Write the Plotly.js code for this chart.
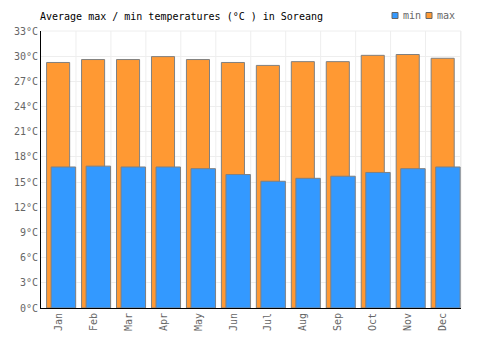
<!DOCTYPE html>
<html>
<head>
<meta charset="utf-8">
<script src="https://cdn.plot.ly/plotly-3.0.1.min.js"></script>
<style>html,body{margin:0;padding:0;background:#fff;}#chart{width:500px;height:350px;}</style>
</head>
<body>
<div id="chart"></div>
<script>
const months = ["Jan","Feb","Mar","Apr","May","Jun","Jul","Aug","Sep","Oct","Nov","Dec"];
const maxTemps = [29.25, 29.6, 29.6, 29.95, 29.6, 29.25, 28.9, 29.35, 29.35, 30.1, 30.2, 29.75];
const minTemps = [16.8, 16.9, 16.8, 16.8, 16.6, 15.9, 15.1, 15.45, 15.7, 16.15, 16.6, 16.8];
const yTicks = [0,3,6,9,12,15,18,21,24,27,30,33];
const seriesNames = ["min","max"];
const seriesColors = ["#3399ff","#ff9933"];

const font = "DejaVu Sans Mono, monospace";
const data = [
  {type:"bar", name:"max", x:months, y:maxTemps, width:0.66, offset:-0.34,
   marker:{color:seriesColors[1], line:{color:"#808080", width:1}}, hoverinfo:"skip"},
  {type:"bar", name:"min", x:months, y:minTemps, width:0.70, offset:-0.21,
   marker:{color:seriesColors[0], line:{color:"#808080", width:1}}, hoverinfo:"skip"}
];
const W=500, H=350, L=41, R=39, T=31, B=42;
const pw=W-L-R, ph=H-T-B;
const px = x => (x-L)/pw;
const py = y => (H-B-y)/ph;
const legendShapes = [], legendAnn = [];
const legX = [392, 426];
seriesNames.forEach((n,i)=>{
  legendShapes.push({type:"rect", xref:"paper", yref:"paper", x0:px(legX[i]), x1:px(legX[i]+6), y0:py(18.5), y1:py(12.5),
    fillcolor:seriesColors[i], line:{color:"#666", width:1}});
  legendAnn.push({xref:"paper", yref:"paper", x:px(legX[i]+9), y:py(16), xanchor:"left", yanchor:"middle",
    text:n, showarrow:false, font:{family:font, size:10, color:"#666"}});
});
const layout = {
  width:W, height:H,
  margin:{l:L, r:R, t:T, b:B},
  paper_bgcolor:"#fff", plot_bgcolor:"#fff",
  barmode:"overlay",
  font:{family:font, size:10, color:"#666"},
  title:{text:"Average max / min temperatures (°C ) in Soreang", x:40/W, xanchor:"left", xref:"container",
         y:1-16/H, yref:"container", yanchor:"middle", automargin:false,
         font:{family:font, size:10, color:"#000"}},
  showlegend:false,
  xaxis:{type:"category", showgrid:false, showline:true, linecolor:"#000", linewidth:1,
         tickangle:-90, ticks:"", tickfont:{family:font, size:10, color:"#666"}, fixedrange:true},
  yaxis:{range:[0,33], tickvals:yTicks, ticktext:yTicks.map(v=>v+"°C"), showgrid:true, gridcolor:"#eeeeee",
         showline:true, linecolor:"#000", linewidth:1, zeroline:false, ticks:"",
         tickfont:{family:font, size:10, color:"#666"}, fixedrange:true},
  shapes: months.map((m,i)=>({type:"line", xref:"x", yref:"paper", x0:i+0.5, x1:i+0.5, y0:0, y1:1,
         line:{color:"#eeeeee", width:1}, layer:"below"})).concat([
         {type:"line", xref:"paper", yref:"paper", x0:0, x1:1, y0:1, y1:1, line:{color:"#eeeeee", width:1}, layer:"below"},
         {type:"line", xref:"paper", yref:"paper", x0:1, x1:1, y0:0, y1:1, line:{color:"#eeeeee", width:1}, layer:"below"}
         ]).concat(legendShapes),
  annotations: legendAnn
};
Plotly.newPlot("chart", data, layout, {displayModeBar:false, staticPlot:true});
</script>
</body>
</html>
